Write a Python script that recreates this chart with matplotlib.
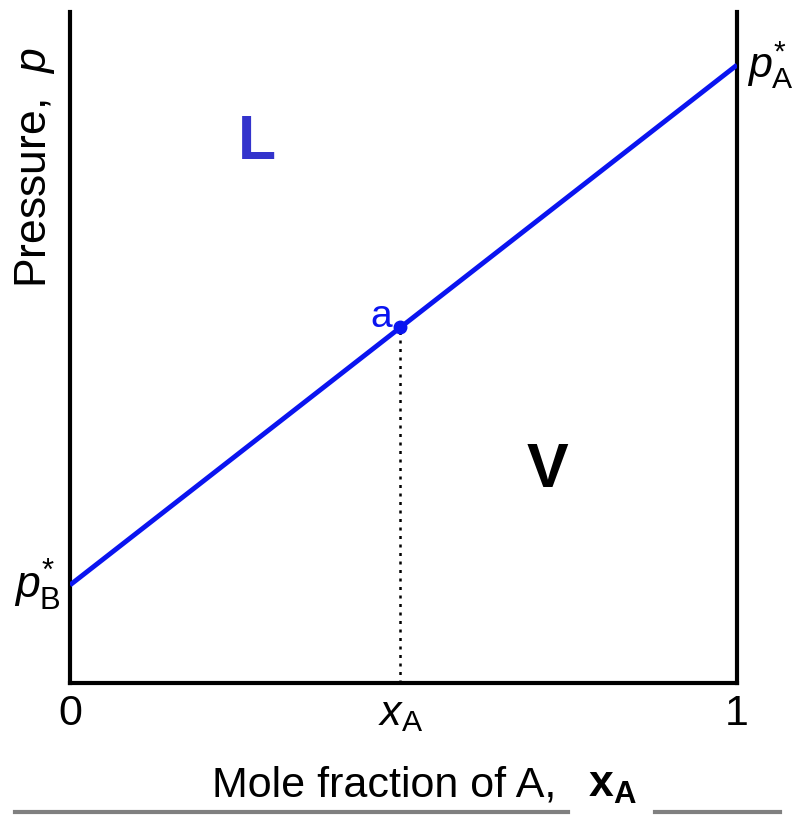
import numpy as np
import matplotlib
matplotlib.use('Agg')
import matplotlib.pyplot as plt
from matplotlib.lines import Line2D

plt.rcParams['font.family'] = ['Liberation Sans', 'DejaVu Sans']
plt.rcParams['mathtext.fontset'] = 'custom'
plt.rcParams['mathtext.rm'] = 'Liberation Sans'
plt.rcParams['mathtext.it'] = 'Liberation Sans:italic'
plt.rcParams['mathtext.bf'] = 'Liberation Sans:bold'

# --- data ---
x_frac = [0.0, 1.0]
pressure = [0.146, 0.921]
point_a_x = 0.495
point_a_y = 0.530

tick_pos = [0.0, point_a_x, 1.0]
tick_labels = ['0', r'$\mathit{x}_{\mathrm{A}}$', '1']

fig = plt.figure(figsize=(7.97, 8.15), dpi=100)
W, H = 797, 815
ax = fig.add_axes([70 / W, 1 - 683 / H, (737 - 70) / W, (683 - 12) / H])

ax.plot(x_frac, pressure, color='#0a14f0', lw=3.5, solid_capstyle='butt', zorder=3)
ax.plot([point_a_x], [point_a_y], 'o', color='#0a14f0', ms=9, zorder=4)
ax.plot([point_a_x, point_a_x], [0, point_a_y], color='black', lw=1.8,
        linestyle=(0, (1.2, 2.2)), zorder=2)

ax.set_xlim(0, 1)
ax.set_ylim(0, 1)
ax.spines['top'].set_visible(False)
for s in ['left', 'right', 'bottom']:
    ax.spines[s].set_linewidth(3)
    ax.spines[s].set_color('black')

ax.set_yticks([])
ax.set_xticks(tick_pos)
ax.set_xticklabels(tick_labels, fontsize=31)
ax.tick_params(axis='x', length=0, pad=8)

fig.text(35 / W, 1 - 168 / H, r'Pressure,  $\mathit{p}$', rotation=90,
         ha='center', va='center', fontsize=32)

ax.text(1.015, 0.921, r'$\mathit{p}^{*}_{\mathrm{A}}$', transform=ax.transAxes,
        ha='left', va='center', fontsize=31, clip_on=False)
ax.text(-0.014, 0.146, r'$\mathit{p}^{*}_{\mathrm{B}}$', transform=ax.transAxes,
        ha='right', va='center', fontsize=32, clip_on=False)

ax.text(point_a_x - 0.012, point_a_y, 'a', color='#0a14f0', fontsize=28,
        ha='right', va='baseline')
ax.text(0.28, 0.805, 'L', color='#3333cc', fontsize=45, fontweight='bold',
        ha='center', va='center')
ax.text(0.716, 0.316, 'V', color='black', fontsize=45, fontweight='bold',
        ha='center', va='center')

fig.text(384 / W, 1 - 785 / H, 'Mole fraction of A,', ha='center', va='center',
         fontsize=31)
fig.text(612 / W, 1 - 786 / H, r'$\mathbf{x}_{\mathbf{A}}$', ha='center',
         va='center', fontsize=32)

# gray underline
fig.add_artist(Line2D([15 / W, 568 / W], [1 - 812 / H, 1 - 812 / H],
                      color='#808080', lw=3))
fig.add_artist(Line2D([655 / W, 780 / W], [1 - 812 / H, 1 - 812 / H],
                      color='#808080', lw=3))

fig.savefig('out.png', dpi=100)
